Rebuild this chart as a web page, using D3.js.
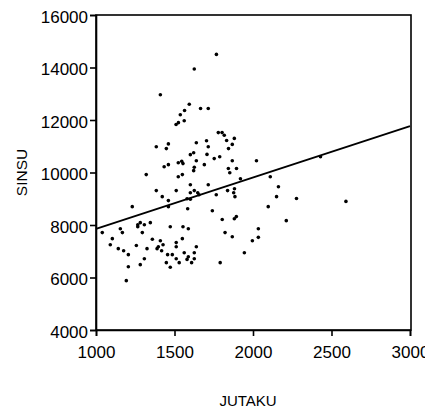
<!DOCTYPE html>
<html>
<head>
<meta charset="utf-8">
<script src="https://cdn.jsdelivr.net/npm/d3@7"></script>
<style>
  html, body { margin: 0; padding: 0; background: #fff; }
  svg { display: block; overflow: hidden; }
  text { font-family: "Liberation Sans", Arial, sans-serif; fill: #000; }
</style>
</head>
<body>
<svg id="chart" width="425" height="412"></svg>
<script>
// JUTAKU (x) values of each observation
const jutaku = [
  1767, 1626, 1410, 1594, 1564, 1537, 1666, 1715, 1562, 1525, 1510,
  1779, 1803, 1817, 1881, 1639, 1704, 1832, 1715, 1868, 1844, 1622, 1601, 1707, 1788, 1753,
  1384, 1461, 1448, 1524, 1546, 1554, 1639, 1690, 1868, 2022, 1434, 1461, 1626, 1622,
  1843, 1895, 1852, 1320, 1550, 1524, 1920, 2110, 2430,
  1384, 1511, 1601, 1715, 1422, 1461, 1601, 1626, 1648, 1656, 1766, 1838, 1882, 1877, 1885,
  1580, 1601, 2162, 2150, 2277, 2592,
  1231, 1461, 1584, 1741, 1804, 1881, 1894, 2097, 2212,
  1040, 1155, 1168, 1266, 1282, 1266, 1308, 1346, 1295, 1473, 1554, 1588, 1822, 1868,
  2034, 1996, 2034, 1104, 1091, 1142, 1176, 1206, 1257, 1325, 1359, 1397, 1389, 1410,
  1427, 1418, 1511, 1511, 1456, 1486, 1511, 1448, 1473, 1308, 1282, 1206, 1193, 1530,
  1550, 1639, 1562, 1626, 1945, 1588, 1580, 1626, 1609, 1791
];

// SINSU (y) values, same order as jutaku
const sinsu = [
  14500, 13940, 12960, 12600, 12360, 12200, 12440, 12440, 11970, 11900, 11830,
  11520, 11520, 11420, 11300, 11135, 11210, 11220, 10980, 11070, 10910, 10750, 10680, 10690, 10600, 10530,
  10980, 11090, 10910, 10370, 10430, 10340, 10450, 10300, 10450, 10450, 10220, 10300, 10200, 10070,
  10150, 10150, 9990, 9920, 9920, 9840, 9760, 9840, 10600,
  9310, 9310, 9535, 9535, 9080, 8930, 9230, 9310, 9230, 9150, 9150, 9310, 9380, 9230, 9080,
  9000, 8980, 9460, 9080, 9010, 8900,
  8700, 8700, 8620, 8545, 8210, 8240, 8320, 8700, 8165,
  7710, 7860, 7710, 8010, 8090, 7935, 8010, 8090, 7710, 7935, 7935, 7860, 7710, 7555,
  7860, 7400, 7530, 7480, 7250, 7100, 7020, 6870, 7220, 7100, 7455, 7170, 7100, 7400,
  7250, 7020, 7330, 7170, 6870, 6870, 6715, 6565, 6390, 6715, 6490, 6410, 5880, 6565,
  7480, 7170, 6945, 6945, 6945, 6790, 6690, 6715, 6565, 6565
];

// Fitted linear trend: SINSU = fitIntercept + fitSlope * JUTAKU
const fitIntercept = 5890;
const fitSlope = 1.96;

const xTicks = [1000, 1500, 2000, 2500, 3000];
const yTicks = [4000, 6000, 8000, 10000, 12000, 14000, 16000];
const xDomain = [1000, 3000];
const yDomain = [4000, 16000];

const svg = d3.select("#chart");
const plot = { left: 96, right: 410, top: 15, bottom: 330 };

const x = d3.scaleLinear().domain(xDomain).range([plot.left, plot.right]);
const y = d3.scaleLinear().domain(yDomain).range([plot.bottom, plot.top]);

// frame around the plotting region
svg.append("rect")
  .attr("x", plot.left).attr("y", plot.top)
  .attr("width", plot.right - plot.left + 1).attr("height", plot.bottom - plot.top)
  .attr("fill", "none").attr("stroke", "#000").attr("stroke-width", 1.6);

// axes
const yAxis = d3.axisLeft(y).tickValues(yTicks).tickFormat(d3.format("d"))
  .tickSize(6).tickPadding(2);
const xAxis = d3.axisBottom(x).tickValues(xTicks).tickFormat(d3.format("d"))
  .tickSize(6).tickPadding(10);

const gy = svg.append("g").attr("transform", `translate(${plot.left},0)`).call(yAxis);
const gx = svg.append("g").attr("transform", `translate(0,${plot.bottom})`).call(xAxis);

[gx, gy].forEach(g => {
  g.select(".domain").attr("stroke", "#000").attr("stroke-width", 1.6);
  g.selectAll(".tick line").attr("stroke", "#000").attr("stroke-width", 1.6);
  g.selectAll(".tick text")
    .attr("font-family", "'Liberation Sans', Arial, sans-serif")
    .attr("font-size", 17).attr("fill", "#000");
});
gy.selectAll(".tick text").attr("dy", "0.42em");

// data points
const points = jutaku.map((v, i) => ({ x: v, y: sinsu[i] }));
svg.append("g").selectAll("circle")
  .data(points)
  .join("circle")
  .attr("cx", d => x(d.x))
  .attr("cy", d => y(d.y))
  .attr("r", 1.8)
  .attr("fill", "#000");

// trend line across the full x range
const line = d3.line().x(d => x(d)).y(d => y(fitIntercept + fitSlope * d));
svg.append("path")
  .datum(xDomain)
  .attr("d", line)
  .attr("fill", "none")
  .attr("stroke", "#000")
  .attr("stroke-width", 1.8);

// axis titles
svg.append("text")
  .attr("x", 248).attr("y", 406)
  .attr("text-anchor", "middle")
  .attr("font-size", 15)
  .text("JUTAKU");

svg.append("text")
  .attr("transform", `translate(27,${(plot.top + plot.bottom) / 2}) rotate(-90)`)
  .attr("text-anchor", "middle")
  .attr("font-size", 15.5)
  .text("SINSU");
</script>
</body>
</html>
